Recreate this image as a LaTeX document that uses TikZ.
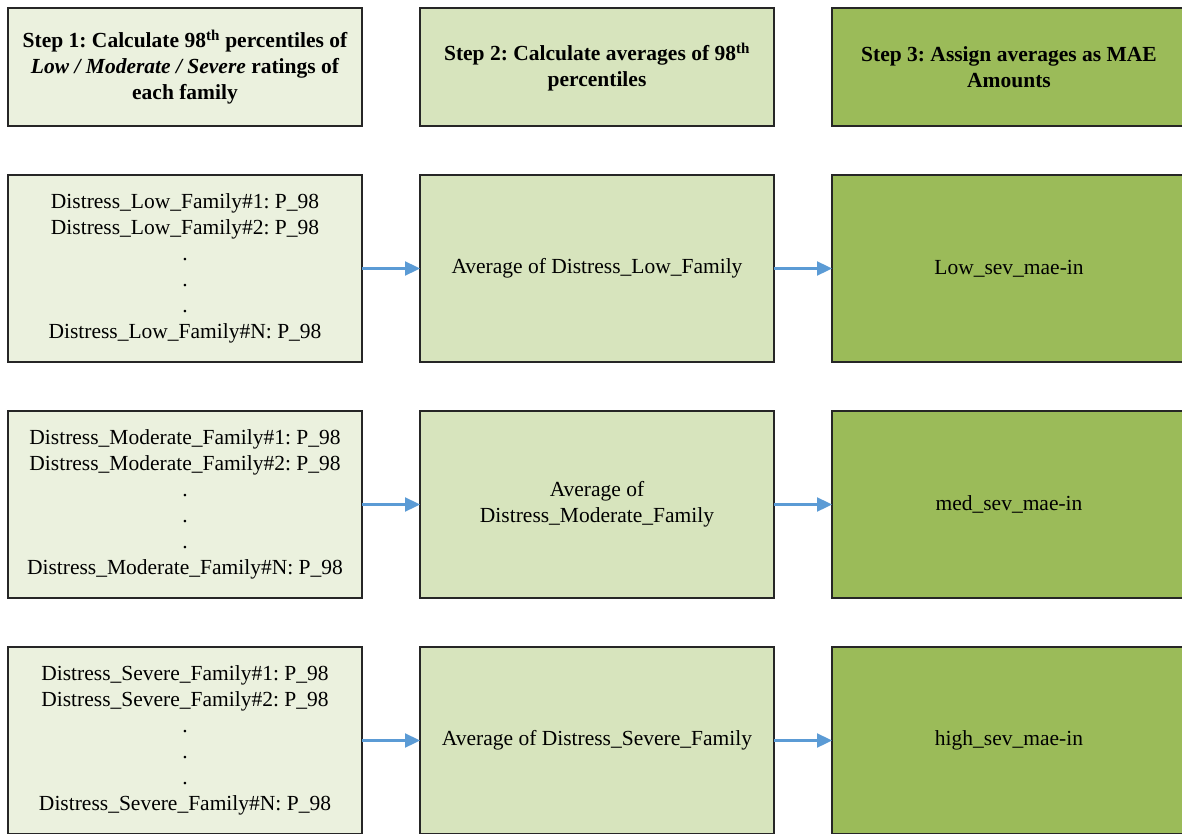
\documentclass[tikz,border=0pt]{standalone}
\usepackage{fontspec}
\setmainfont{Liberation Serif}
\usetikzlibrary{arrows.meta,positioning}
\definecolor{paleolive}{HTML}{EBF1DE}
\definecolor{midolive}{HTML}{D7E4BD}
\definecolor{darkolive}{HTML}{9BBB59}
\definecolor{flowblue}{HTML}{5B9BD5}
\frenchspacing

\begin{document}
\begin{tikzpicture}[
  x=1pt, y=-1pt,
  node distance=49pt and 58pt,
  stepbox/.style={draw=black!85, line width=1.3pt, minimum width=354pt, minimum height=118pt,
                  inner sep=0pt, outer sep=0pt, align=center,
                  font=\fontsize{21.5}{26}\selectfont\bfseries},
  listbox/.style={stepbox, minimum height=187pt, font=\fontsize{21.5}{26}\selectfont},
  flow/.style={->, flowblue, line width=2.3pt},
  >={Triangle[length=15pt,width=14pt]}]
  \useasboundingbox (0,0) rectangle (1182,834);

  % header row
  \node[stepbox, fill=paleolive, anchor=north west] (step1) at (8,8)
      {Step 1: Calculate 98\textsuperscript{th} percentiles of\\
       \textit{Low / Moderate / Severe} ratings of\\ each family};
  \node[stepbox, fill=midolive, right=of step1] (step2)
      {Step 2: Calculate averages of 98\textsuperscript{th}\\ percentiles};
  \node[stepbox, fill=darkolive, right=of step2] (step3)
      {Step 3: Assign averages as MAE\\ Amounts};

  % low
  \node[listbox, fill=paleolive, below=of step1] (lowlist)
      {Distress\_Low\_Family\#1: P\_98\\ Distress\_Low\_Family\#2: P\_98\\ .\\ .\\ .\\
       Distress\_Low\_Family\#N: P\_98};
  \node[listbox, fill=midolive, right=of lowlist] (lowavg) {Average of Distress\_Low\_Family};
  \node[listbox, fill=darkolive, right=of lowavg] (lowmae) {Low\_sev\_mae-in};

  % moderate
  \node[listbox, fill=paleolive, below=of lowlist] (modlist)
      {Distress\_Moderate\_Family\#1: P\_98\\ Distress\_Moderate\_Family\#2: P\_98\\ .\\ .\\ .\\
       Distress\_Moderate\_Family\#N: P\_98};
  \node[listbox, fill=midolive, right=of modlist] (modavg) {Average of\\ Distress\_Moderate\_Family};
  \node[listbox, fill=darkolive, right=of modavg] (modmae) {med\_sev\_mae-in};

  % severe
  \node[listbox, fill=paleolive, below=of modlist] (sevlist)
      {Distress\_Severe\_Family\#1: P\_98\\ Distress\_Severe\_Family\#2: P\_98\\ .\\ .\\ .\\
       Distress\_Severe\_Family\#N: P\_98};
  \node[listbox, fill=midolive, right=of sevlist] (sevavg) {Average of Distress\_Severe\_Family};
  \node[listbox, fill=darkolive, right=of sevavg] (sevmae) {high\_sev\_mae-in};

  \draw[flow] (lowlist) -- (lowavg);
  \draw[flow] (lowavg) -- (lowmae);
  \draw[flow] (modlist) -- (modavg);
  \draw[flow] (modavg) -- (modmae);
  \draw[flow] (sevlist) -- (sevavg);
  \draw[flow] (sevavg) -- (sevmae);
\end{tikzpicture}
\end{document}
